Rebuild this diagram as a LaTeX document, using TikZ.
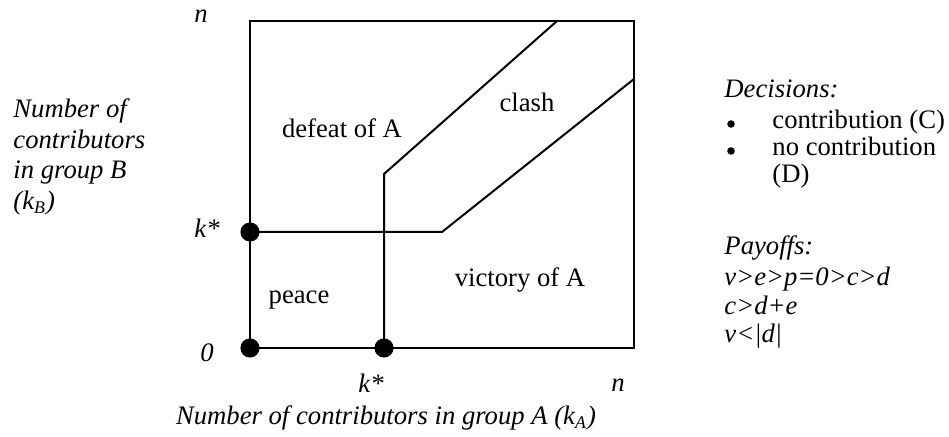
\documentclass[tikz,border=0pt]{standalone}
\usepackage{fontspec}
\setmainfont{Liberation Serif}
\usepackage{tikz}
\usetikzlibrary{positioning,calc}
\begin{document}
\begin{tikzpicture}[x=0.45pt,y=-0.45pt,
        frame/.style={draw=black,line width=0.9pt},
        bound/.style={draw=black,line width=0.9pt},
        dot/.style={circle,fill=black,inner sep=0pt,minimum size=8.6pt},
        itembullet/.style={circle,fill=black,inner sep=0pt,minimum size=3.4pt},
        tick/.style={font=\fontsize{12}{13.8}\selectfont\itshape,inner sep=0pt},
        region/.style={font=\fontsize{12}{13.8}\selectfont,inner sep=0pt},
        note/.style={font=\fontsize{12}{13.8}\selectfont,inner sep=0pt,anchor=base west}]
      \useasboundingbox (0,0) rectangle (949,437);
      \coordinate (O)  at (250,348);
      \coordinate (NE) at (634,21);
      \draw[frame] (O) rectangle (NE);
      \node[dot] (zero)  at (250,348) {};
      \node[dot] (kB)    at (250,232) {};
      \node[dot] (kA)    at (384,348) {};
      \coordinate (kinkA) at (384,174);
      \coordinate (topA)  at (557,21);
      \coordinate (kinkB) at (442,232);
      \coordinate (sideB) at (634,79);
      \draw[bound] (kA.center) -- (kinkA) -- (topA);
      \draw[bound] (kB.center) -- (kinkB) -- (sideB);
      \node[tick,anchor=base] (nB)   at (201,23)  {n};
      \node[tick,anchor=base] (ksB)  at (207,238) {k*};
      \node[tick,anchor=base] (zB)   at (207,362) {0};
      \node[tick,anchor=base] (ksA)  at (371,393) {k*};
      \node[tick,anchor=base] (nA)   at (618,392) {n};
      \node[tick,anchor=base] (axA)  at (386,425) {Number of contributors in group A (k\textsubscript{A})};
      \node[tick,anchor=base west] (axB1) at (13,118) {Number of};
      \node[tick,anchor=base west] (axB2) at (13,149) {contributors};
      \node[tick,anchor=base west] (axB3) at (13,179) {in group B};
      \node[tick,anchor=base west] (axB4) at (13,210) {(k\textsubscript{B})};
      \node[region,anchor=base] (defeat)  at (342,138) {defeat of A};
      \node[region,anchor=base] (clash)   at (527,112) {clash};
      \node[region,anchor=base] (peace)   at (299,304) {peace};
      \node[region,anchor=base] (victory) at (520,287) {victory of A};
      \node[note] (dec) at (724,98) {\itshape Decisions:};
      \node[itembullet] (b1) at (731,124) {};
      \node[note] (itC) at (772,129) {contribution (C)};
      \node[itembullet] (b2) at (731,151) {};
      \node[note] (itD) at (772,156) {no contribution};
      \node[note] (itD2) at (772,183) {(D)};
      \node[note] (pay) at (724,255) {\itshape Payoffs:};
      \node[note] (p1)  at (724,286) {\itshape v>e>p=0>c>d};
      \node[note] (p2)  at (724,315) {\itshape c>d+e};
      \node[note] (p3)  at (724,343) {\itshape v<|d|};
    \end{tikzpicture}
\end{document}
